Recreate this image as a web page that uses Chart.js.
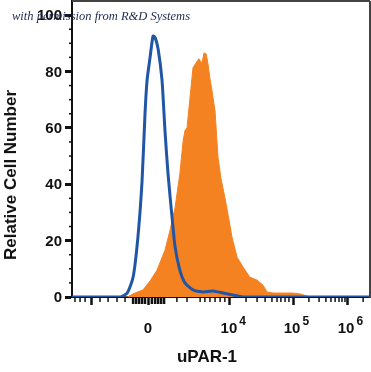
<!DOCTYPE html>
<html>
<head>
<meta charset="utf-8">
<script src="https://cdn.jsdelivr.net/npm/chart.js@4.4.0/dist/chart.umd.min.js"></script>
<style>
  body { margin: 0; background: #fff; }
  .wrap { position: relative; width: 371px; height: 372px; }
  .ytitle { position: absolute; left: 11px; top: 175px; transform: translate(-50%, -50%) rotate(-90deg);
            font: bold 17px "Liberation Sans", Arial, sans-serif; white-space: nowrap; color: #111; }
  .xtitle { position: absolute; left: 207px; top: 357px; transform: translate(-50%, -50%);
            font: bold 17px "Liberation Sans", Arial, sans-serif; white-space: nowrap; color: #111; }
  .credit { position: absolute; left: 12px; top: 9px; font: italic 12.5px "Liberation Serif", serif;
            color: #1b2a4e; white-space: nowrap; }
</style>
</head>
<body>
<div class="wrap">
  <canvas id="histo"></canvas>
  <div class="ytitle">Relative Cell Number</div>
  <div class="xtitle">uPAR-1</div>
  <div class="credit">with permission from R&amp;D Systems</div>
</div>
<script>
// x is in display channels (0-1000) of the biexponential axis
const isotypeX = [0, 161, 185, 205, 221, 235, 245, 252, 262, 272, 279, 289, 302, 312, 322, 336, 346, 362, 379, 406, 440, 473, 507, 540, 574, 1000];
const isotypeY = [0, 0, 1.4, 7, 21, 41, 65, 77, 85, 92.6, 92, 88, 77, 59, 44, 28, 17.7, 9.5, 5, 2.5, 1.8, 2.1, 1.4, 0.7, 0, 0];

const stainX = [0, 185, 211, 238, 262, 285, 312, 329, 346, 362, 373, 379, 386, 396, 406, 416, 426, 433, 436, 443, 450, 456, 463, 470, 480, 490, 500, 513, 524, 537, 554, 574, 597, 621, 641, 654, 675, 708, 742, 765, 799, 1000];
const stainY = [0, 0, 1.4, 2.5, 5.7, 9.5, 16.6, 23.7, 31.8, 43.8, 55.5, 59, 60, 70.7, 81.3, 83, 84.5, 83.4, 82.7, 86.6, 86.2, 83, 77.4, 73, 66, 49.5, 42, 35.3, 29, 21.2, 14.1, 10.6, 7, 6, 4.2, 1.8, 1.4, 1.4, 1.4, 1.1, 0, 0];

const xMajorTicks = [64, 258, 530, 742, 923];
const xMinorTicks = [10, 27, 44, 94, 121, 151, 178, 352, 386, 430, 446, 463, 480, 497, 513, 584, 621, 648, 671, 688, 701, 715, 728, 795, 829, 852, 869, 883, 896, 906, 916, 977];
const xZeroTicks = [205, 215, 225, 235, 245, 268, 279, 289, 299, 309];
const xLabelValues = [258, 530, 742, 923];
const xLabelBase = ['0', '10', '10', '10'];
const xLabelExp = ['', '4', '5', '6'];

const yMajorTicks = [0, 20, 40, 60, 80, 100];
const yMinorTicks = [5, 10, 15, 25, 30, 35, 45, 50, 55, 65, 70, 75, 85, 90, 95];

function pts(xs, ys) {
    return xs.map((x, i) => ({ x: x, y: ys[i] }));
}

function line(ctx, x1, y1, x2, y2) {
    ctx.beginPath();
    ctx.moveTo(x1, y1);
    ctx.lineTo(x2, y2);
    ctx.stroke();
}

function noPad(s) {
    s.paddingTop = 0;
    s.paddingBottom = 0;
    s.paddingLeft = 0;
    s.paddingRight = 0;
}

const extras = {
    id: 'extras',
    afterDraw(chart) {
        const ctx = chart.ctx;
        const a = chart.chartArea;
        const x = chart.scales.x, y = chart.scales.y;
        ctx.save();
        ctx.strokeStyle = '#111';
        ctx.lineWidth = 1.5;
        xMinorTicks.forEach(v => { let p = x.getPixelForValue(v); line(ctx, p, a.bottom, p, a.bottom + 5) });
        ctx.lineWidth = 2.5;
        xZeroTicks.forEach(v => { let p = x.getPixelForValue(v); line(ctx, p, a.bottom, p, a.bottom + 7) });
        ctx.lineWidth = 1.5;
        yMinorTicks.forEach(v => { let p = y.getPixelForValue(v); line(ctx, a.left - 3, p, a.left, p) });

        // frame top and right
        ctx.strokeStyle = '#444';
        ctx.lineWidth = 2;
        line(ctx, a.left, a.top, a.right, a.top);
        line(ctx, a.right, a.top, a.right, a.bottom + 1);

        // x tick labels with exponents
        ctx.fillStyle = '#111';
        xLabelValues.forEach((v, i) => {
            let p = x.getPixelForValue(v) - 1;
            ctx.font = 'bold 15px "Liberation Sans", Arial, sans-serif';
            ctx.textAlign = 'center';
            ctx.textBaseline = 'alphabetic';
            ctx.fillText(xLabelBase[i], p, a.bottom + 36);
            let w = ctx.measureText(xLabelBase[i]).width;
            if (xLabelExp[i]) {
                ctx.font = 'bold 12px "Liberation Sans", Arial, sans-serif';
                ctx.textAlign = 'left';
                ctx.fillText(xLabelExp[i], p + w / 2 + 2, a.bottom + 28);
            }
        });
        ctx.restore();
    }
};

new Chart(document.getElementById('histo'), {
    type: 'line',
    data: {
        datasets: [
            {
                label: 'isotype',
                data: pts(isotypeX, isotypeY),
                borderColor: '#2156a6',
                borderWidth: 3,
                pointRadius: 0,
                fill: false,
                tension: 0.2,
                order: 0
            },
            {
                label: 'uPAR-1',
                data: pts(stainX, stainY),
                borderColor: '#f58220',
                backgroundColor: '#f58220',
                borderWidth: 1,
                pointRadius: 0,
                fill: 'origin',
                tension: 0,
                order: 1
            }
        ]
    },
    options: {
        animation: false,
        responsive: true,
        maintainAspectRatio: false,
        layout: { padding: { top: 1, right: 1, left: 0, bottom: 0 } },
        plugins: { legend: { display: false }, tooltip: { enabled: false } },
        scales: {
            x: {
                type: 'linear',
                min: 0,
                max: 1000,
                afterBuildTicks: s => { s.ticks = xMajorTicks.map(v => ({ value: v })) },
                afterFit: s => { s.height = 75; noPad(s) },
                border: { color: '#111', width: 2 },
                grid: { drawOnChartArea: false, drawTicks: true, tickLength: 8, tickWidth: 2.5, tickColor: '#111' },
                ticks: { display: false, autoSkip: false }
            },
            y: {
                min: 0,
                max: 105,
                afterBuildTicks: s => { s.ticks = yMajorTicks.map(v => ({ value: v })) },
                afterFit: s => { s.width = 72; noPad(s) },
                border: { color: '#111', width: 2 },
                grid: { drawOnChartArea: false, drawTicks: true, tickLength: 7, tickWidth: 3, tickColor: '#111' },
                ticks: {
                    color: '#111',
                    padding: 3,
                    labelOffset: 1,
                    font: { family: '"Liberation Sans", Arial, sans-serif', size: 15, weight: 'bold' }
                }
            }
        }
    },
    plugins: [extras]
});
</script>
</body>
</html>
